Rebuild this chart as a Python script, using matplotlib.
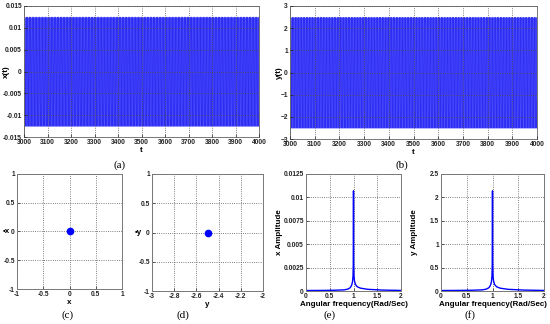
import numpy as np
import matplotlib
matplotlib.use('Agg')
import matplotlib.pyplot as plt

plt.rcParams['font.family'] = ['Liberation Sans', 'DejaVu Sans']

# time response (a) and (b)
t_start, t_end = 3000, 4000
t_step = 0.05
omega = 1.0            # oscillation frequency, rad/s (peak of the spectra)
x_amp = 0.0125
y_amp = 2.5

# spectra (e) and (f)
freq = [0.0, 0.3, 0.6, 0.8, 0.88, 0.93, 0.96, 0.98, 0.99, 0.995, 1.0,
        1.005, 1.01, 1.02, 1.04, 1.08, 1.15, 1.3, 1.6, 2.0]
x_spec = [0.00005, 0.00006, 0.00008, 0.00012, 0.0002, 0.00035, 0.0006, 0.001, 0.0016, 0.0028, 0.0107,
          0.0028, 0.0016, 0.0011, 0.0007, 0.00045, 0.0003, 0.00018, 0.0001, 0.00006]
y_spec = [0.01, 0.012, 0.016, 0.024, 0.04, 0.07, 0.12, 0.2, 0.32, 0.56, 2.14,
          0.56, 0.32, 0.22, 0.14, 0.09, 0.06, 0.036, 0.02, 0.012]

# equilibrium points, panels (c) and (d)
eq_x, eq_xdot = 0.0, 0.0
eq_y, eq_ydot = -2.5, 0.0

W, H = 550, 324
fig = plt.figure(figsize=(W / 100, H / 100), dpi=100)


def px_axes(l, r, t, b):
    return fig.add_axes([l / W, 1 - b / H, (r - l) / W, (b - t) / H])


def style(ax):
    ax.grid(True, color='#555555', linestyle=':', linewidth=0.6)
    ax.tick_params(direction='in', labelsize=4.8, length=2, width=0.5, pad=1.5, colors='#222222')
    for lab in ax.get_xticklabels() + ax.get_yticklabels():
        lab.set_fontweight('bold')
    for s in ax.spines.values():
        s.set_color('#777777')
        s.set_linewidth(0.7)


def lab(ax, xl, yl, ylx, flat=False):
    # ylx: right edge of the y label, figure pixels
    ax.set_xlabel(xl, fontsize=5.8, fontweight='bold', labelpad=0.5)
    if flat:
        # dotted state label, drawn as in the figure: dot beside the letter
        ax.set_ylabel(yl, fontsize=5.8, fontweight='bold', rotation=0, ha='right', va='center')
    else:
        ax.set_ylabel(yl, fontsize=5.8, fontweight='bold')
    bb = ax.get_position()
    ax.yaxis.set_label_coords((ylx / W - bb.x0) / bb.width, 0.5)


def signal(ax, amp, phase):
    ax.fill_between(t, -amp, amp, color='#5252ff', lw=0, zorder=1)
    ax.plot(t, amp * np.cos(omega * t + phase), color='#2626f0', lw=0.3, zorder=2)


t = np.arange(t_start, t_end + t_step, t_step)

# (a)
ax = px_axes(24, 259, 6, 137)
signal(ax, x_amp, 0.0)
ax.set_xlim(3000, 4000)
ax.set_ylim(-0.015, 0.015)
ax.set_xticks(np.arange(3000, 4001, 100))
ax.set_yticks([-0.015, -0.01, -0.005, 0, 0.005, 0.01, 0.015])
ax.set_yticklabels(['-0.015', '-0.01', '-0.005', '0', '0.005', '0.01', '0.015'])
style(ax)
ax.set_axisbelow(False)
lab(ax, 't', 'x(t)', 10)

# (b)
ax = px_axes(290, 537, 6, 139)
signal(ax, y_amp, 0.3)
ax.set_xlim(3000, 4000)
ax.set_ylim(-3, 3)
ax.set_xticks(np.arange(3000, 4001, 100))
ax.set_yticks([-3, -2, -1, 0, 1, 2, 3])
style(ax)
ax.set_axisbelow(False)
lab(ax, 't', 'y(t)', 283)

# (c)
ax = px_axes(17, 122, 174, 289)
ax.plot([eq_x], [eq_xdot], 'o', color='#0000ff', ms=4.5)
ax.set_xlim(-1, 1)
ax.set_ylim(-1, 1)
ax.set_xticks([-1, -0.5, 0, 0.5, 1])
ax.set_yticks([-1, -0.5, 0, 0.5, 1])
ax.set_xticklabels(['-1', '-0.5', '0', '0.5', '1'])
ax.set_yticklabels(['-1', '-0.5', '0', '0.5', '1'])
style(ax)
lab(ax, 'x', '•x', 10, flat=True)

# (d)
ax = px_axes(152, 263, 174, 291)
ax.plot([eq_y], [eq_ydot], 'o', color='#0000ff', ms=4.5)
ax.set_xlim(-3, -2)
ax.set_ylim(-1, 1)
ax.set_xticks([-3, -2.8, -2.6, -2.4, -2.2, -2])
ax.set_xticklabels(['-3', '-2.8', '-2.6', '-2.4', '-2.2', '-2'])
ax.set_yticks([-1, -0.5, 0, 0.5, 1])
ax.set_yticklabels(['-1', '-0.5', '0', '0.5', '1'])
style(ax)
lab(ax, 'y', '•y', 142, flat=True)

# (e)
ax = px_axes(306, 401, 174, 291)
ax.plot(freq, x_spec, color='#0000ff', lw=1.0)
ax.set_xlim(0, 2)
ax.set_ylim(0, 0.0125)
ax.set_xticks([0, 0.5, 1, 1.5, 2])
ax.set_xticklabels(['0', '0.5', '1', '1.5', '2'])
ax.set_yticks([0, 0.0025, 0.005, 0.0075, 0.01, 0.0125])
ax.set_yticklabels(['0', '0.0025', '0.005', '0.0075', '0.01', '0.0125'])
style(ax)
lab(ax, 'Angular frequency(Rad/Sec)', 'x Amplitude', 283)

# (f)
ax = px_axes(441, 544, 174, 291)
ax.plot(freq, y_spec, color='#0000ff', lw=1.0)
ax.set_xlim(0, 2)
ax.set_ylim(0, 2.5)
ax.set_xticks([0, 0.5, 1, 1.5, 2])
ax.set_xticklabels(['0', '0.5', '1', '1.5', '2'])
ax.set_yticks([0, 0.5, 1, 1.5, 2, 2.5])
ax.set_yticklabels(['0', '0.5', '1', '1.5', '2', '2.5'])
style(ax)
lab(ax, 'Angular frequency(Rad/Sec)', 'y Amplitude', 418)

# panel letters
for s, xp, yp in [('(a)', 120, 165), ('(b)', 402, 165), ('(c)', 68, 315),
                  ('(d)', 183, 315), ('(e)', 330, 315), ('(f)', 470, 315)]:
    fig.text(xp / W, 1 - yp / H, s, fontsize=8, family='Liberation Serif',
             ha='center', va='center')

fig.savefig('out.png', dpi=100)
